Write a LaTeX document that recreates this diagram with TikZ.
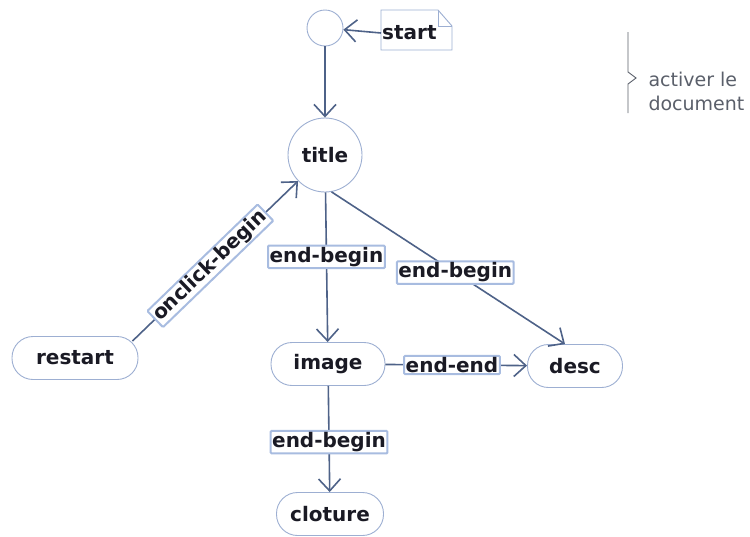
\documentclass[tikz,border=0pt]{standalone}
\usepackage{fontspec}
\setmainfont{DejaVu Sans}
\usetikzlibrary{arrows.meta}
\definecolor{nodeline}{HTML}{9DAFD2}
\definecolor{edgecol}{HTML}{4E6288}
\definecolor{labline}{HTML}{A8BCE0}
\definecolor{txt}{HTML}{1A1A24}
\definecolor{graytxt}{HTML}{5A5F6A}
\begin{document}
\begin{tikzpicture}[x=1pt,y=-1pt,
  every node/.style={font=\fontsize{20}{23}\selectfont\bfseries, text=txt},
  circ/.style={circle, draw=nodeline, line width=0.9pt, fill=white, minimum size=74pt, inner sep=0pt},
  initc/.style={circle, draw=nodeline, line width=0.9pt, fill=white, minimum size=36pt, inner sep=0pt},
  pill/.style={rectangle, rounded corners=21pt, draw=nodeline, line width=0.9pt, fill=white, minimum height=43pt, inner sep=0pt},
  conn/.style={draw=edgecol, line width=1.6pt, -{Straight Barb[length=12pt,width=22pt,line width=1.6pt]}},
  lab/.style={fill=white, draw=labline, line width=2pt, inner sep=1.5pt, rounded corners=1pt}
]
\useasboundingbox (0,0) rectangle (750,536);

% nodes
\node[initc] (init) at (325,28) {};
\node[circ] (title) at (325,155) {title};
\node[pill, minimum width=126pt] (restart) at (75,358) {restart};
\node[pill, minimum width=114pt] (image) at (328,364) {image};
\node[pill, minimum width=95pt] (desc) at (575,366) {desc};
\node[pill, minimum width=107pt] (cloture) at (330,514) {cloture};

% note
\draw[draw=nodeline, line width=0.9pt] (381,10) -- (438,10) -- (452,26) -- (452,50) -- (381,50) -- cycle;
\draw[draw=nodeline, line width=0.9pt] (438,10) -- (438,26) -- (452,26);
\node[inner sep=0pt, anchor=west] (start) at (382,33) {start};
\coordinate (startw) at (381,33);

% connectors
\draw[conn] (startw) -- (init);
\draw[conn] (init) -- (title);
\draw[conn] ([xshift=-6pt,yshift=-5pt]restart.north east) -- node[lab, sloped, pos=0.47] (l1) {onclick-begin} (title);
\draw[conn] (title) -- node[lab, pos=0.43] (l2) {end-begin} (image);
\draw[conn] (title.-80) -- node[lab, pos=0.53] (l3) {end-begin} ([xshift=-10pt]desc.north);
\draw[conn] (image) -- node[lab, pos=0.47] (l4) {end-end} (desc);
\draw[conn] (image) -- node[lab, pos=0.53] (l5) {end-begin} (cloture);

% bracket comment
\draw[draw=graytxt, line width=0.9pt] (628,32) -- (628,72) -- (636,78) -- (628,84) -- (628,113);
\node[font=\fontsize{19}{24}\selectfont, text=graytxt, align=left, anchor=west] (comment) at (645,91) {activer le\\document};
\end{tikzpicture}
\end{document}
